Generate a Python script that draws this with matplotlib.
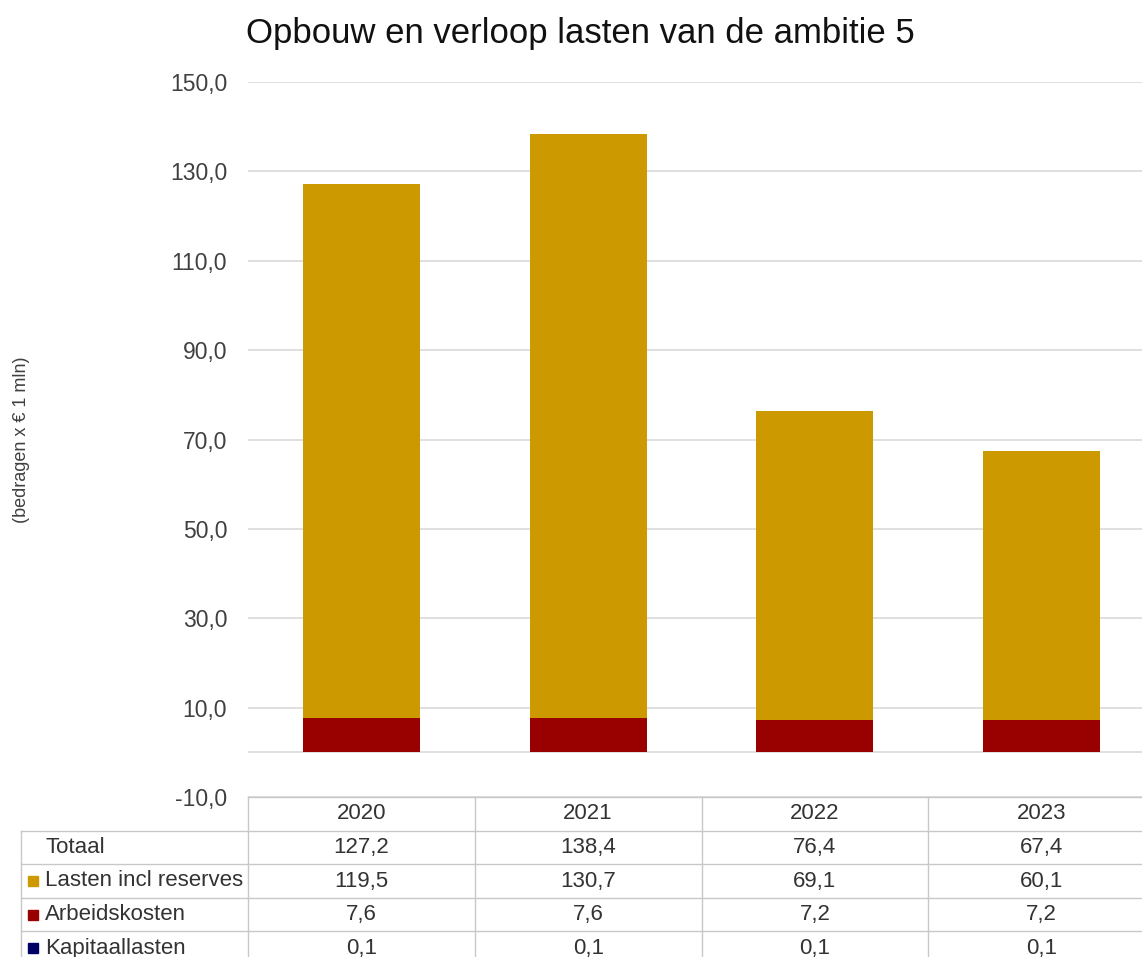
import matplotlib.pyplot as plt
from matplotlib.ticker import FuncFormatter

plt.rcParams['font.family'] = ['Liberation Sans', 'DejaVu Sans']

# data
jaren = ['2020', '2021', '2022', '2023']
totaal = [127.2, 138.4, 76.4, 67.4]
lasten = [119.5, 130.7, 69.1, 60.1]
arbeid = [7.6, 7.6, 7.2, 7.2]
kapitaal = [0.1, 0.1, 0.1, 0.1]

rij_namen = ['Totaal', 'Lasten incl reserves', 'Arbeidskosten', 'Kapitaallasten']
rij_kleuren = [None, '#CC9900', '#990000', '#000066']

W, H = 1142, 957
fig = plt.figure(figsize=(W / 100, H / 100), dpi=100)

# plot area in pixels (left, top, right, bottom)
L, T, R, B = 248, 82, 1155, 797
ax = fig.add_axes([L / W, 1 - B / H, (R - L) / W, (B - T) / H])

x = list(range(len(jaren)))
breedte = 0.515
ax.bar(x, kapitaal, breedte, color=rij_kleuren[3])
onder = [k for k in kapitaal]
ax.bar(x, arbeid, breedte, bottom=onder, color=rij_kleuren[2])
onder = [k + a for k, a in zip(kapitaal, arbeid)]
ax.bar(x, lasten, breedte, bottom=onder, color=rij_kleuren[1])

ax.set_xlim(-0.5, 3.5)
ax.set_ylim(-10, 150)
ax.set_yticks(range(-10, 151, 20))
ax.yaxis.set_major_formatter(FuncFormatter(lambda v, p: f'{v:.1f}'.replace('.', ',')))
ax.tick_params(axis='y', length=0, pad=15, labelsize=16.5, labelcolor='#404040')
ax.set_xticks([])
for s in ax.spines.values():
    s.set_visible(False)
ax.grid(axis='y', color='#D9D9D9', linewidth=1.2)
ax.set_axisbelow(True)
ax.axhline(0, color='#D9D9D9', linewidth=1.2, zorder=0)

fig.text(22 / W, 1 - 440 / H, '(bedragen x € 1 mln)', rotation=90,
         ha='center', va='center', fontsize=13, color='#404040')

fig.text(580 / W, 1 - 33 / H, 'Opbouw en verloop lasten van de ambitie 5',
         ha='center', va='center', fontsize=25, color='#111111')

# data table below the plot
rij_h = 33.6
n_rij = len(rij_namen) + 1
tab = fig.add_axes([L / W, 1 - (B + n_rij * rij_h) / H, (R - L) / W, n_rij * rij_h / H],
                   sharex=ax)
tab.set_ylim(n_rij, 0)
tab.axis('off')
lijn = dict(color='#C8C8C8', linewidth=1.0, clip_on=False)

tab.plot([-0.5, 3.5], [0, 0], **lijn)
for r in range(1, n_rij + 1):
    tab.plot([-1.5, 3.5], [r, r], **lijn)
for c in range(len(jaren) + 1):
    tab.plot([c - 0.5, c - 0.5], [0, n_rij], **lijn)
tab.plot([-1.5, -1.5], [1, n_rij], **lijn)

for i, j in enumerate(jaren):
    tab.text(i, 0.5, j, ha='center', va='center', fontsize=16, color='#333333')

rijen = [totaal, lasten, arbeid, kapitaal]
for r, (naam, kleur, waarden) in enumerate(zip(rij_namen, rij_kleuren, rijen), start=1):
    tab.text(-1.395, r + 0.5, naam, ha='left', va='center', fontsize=16,
             color='#333333', clip_on=False)
    if kleur:
        tab.plot([-1.447], [r + 0.5], marker='s', markersize=7, color=kleur,
                 linestyle='none', clip_on=False)
    for i, v in enumerate(waarden):
        tab.text(i, r + 0.5, f'{v:.1f}'.replace('.', ','), ha='center', va='center',
                 fontsize=16, color='#333333')

fig.savefig('out.png', dpi=100)
